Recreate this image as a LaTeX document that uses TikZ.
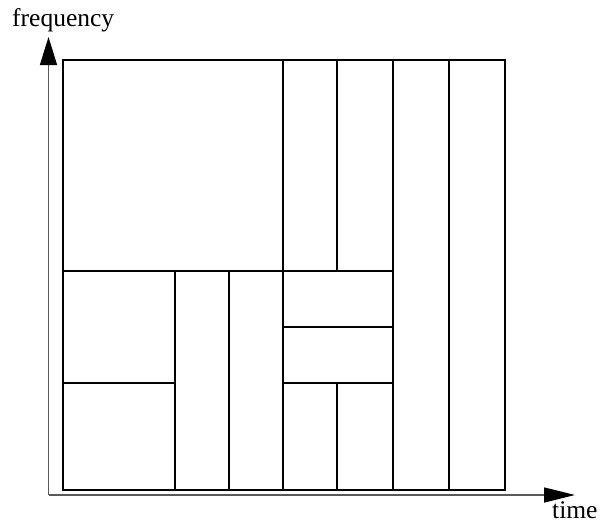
\documentclass[tikz,border=0pt]{standalone}
\usepackage{fontspec}
\setmainfont{Liberation Serif}
\usetikzlibrary{arrows.meta}
\begin{document}
\begin{tikzpicture}[x=1pt,y=-1pt,
  cell/.style={line width=1.6pt, line cap=rect},
  axis/.style={draw=black!65, line width=1.3pt},
  lbl/.style={anchor=base west, inner sep=0pt, font=\fontsize{25.5}{30}\selectfont}]
\useasboundingbox (0,0) rectangle (600,522);
% axes
\coordinate (O) at (48.5,495);
\coordinate (Y) at (48.5,37);
\coordinate (X) at (575,495);
\draw[axis, -{Triangle[length=28pt,width=17pt,color=black]}] (O) -- (Y);
\draw[axis, -{Triangle[length=31pt,width=15pt,color=black]}] (O) -- (X);
\node[lbl] (fl) at (12,27) {frequency};
\node[lbl] (tl) at (552,518) {time};
% tiling
\draw[cell] (63,60) rectangle (505,490);
\draw[cell] (283,60) -- (283,490);
\draw[cell] (393,60) -- (393,490);
\draw[cell] (449,60) -- (449,490);
\draw[cell] (337,60) -- (337,271);
\draw[cell] (337,383) -- (337,490);
\draw[cell] (63,271) -- (393,271);
\draw[cell] (175,271) -- (175,490);
\draw[cell] (229,271) -- (229,490);
\draw[cell] (63,383) -- (175,383);
\draw[cell] (283,327) -- (393,327);
\draw[cell] (283,383) -- (393,383);
\end{tikzpicture}
\end{document}
